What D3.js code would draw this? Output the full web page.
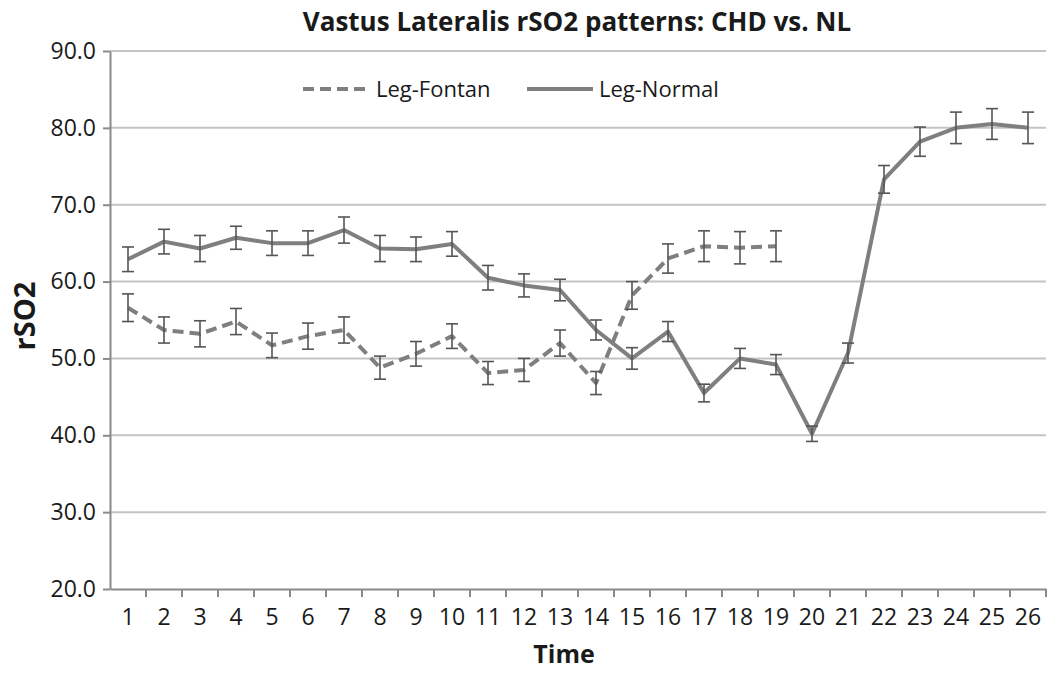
<!DOCTYPE html>
<html>
<head>
<meta charset="utf-8">
<script src="https://cdn.jsdelivr.net/npm/d3@7"></script>
<style>
  body { margin: 0; background: #fff; }
  text { font-family: "Open Sans", sans-serif; fill: #1a1a1a; }
</style>
</head>
<body>
<div id="chart"></div>
<script>
const width = 1048;
const height = 673;

const times = d3.range(1, 27).map(String); // 1..26 labels

const fontanMean = [56.6, 53.7, 53.2, 54.8, 51.7, 52.9, 53.7, 48.8, 50.6, 52.9, 48.1, 48.5, 52.0, 46.8, 58.2, 63.0, 64.6, 64.4, 64.6];
const fontanErr = [1.8, 1.7, 1.7, 1.7, 1.6, 1.7, 1.7, 1.5, 1.6, 1.6, 1.5, 1.5, 1.7, 1.5, 1.8, 1.9, 2.0, 2.1, 2.0];

const normalMean = [62.9, 65.2, 64.3, 65.7, 65.0, 65.0, 66.7, 64.3, 64.2, 64.9, 60.5, 59.5, 58.9, 53.7, 50.0, 53.5, 45.5, 50.0, 49.2, 40.2, 50.7, 73.3, 78.2, 80.0, 80.5, 80.0];
const normalErr = [1.6, 1.6, 1.7, 1.5, 1.6, 1.6, 1.7, 1.7, 1.6, 1.6, 1.6, 1.5, 1.4, 1.3, 1.4, 1.3, 1.15, 1.3, 1.3, 1.0, 1.3, 1.8, 1.9, 2.05, 2.0, 2.05];

const yTicks = [20, 30, 40, 50, 60, 70, 80, 90];

const margin = {top: 51, right: 2, bottom: 84, left: 110}; // plot area 110..1046, 51..589

const svg = d3.select('#chart').append('svg')
  .attr('width', width)
  .attr('height', height);

const x = d3.scaleBand()
  .domain(times)
  .range([margin.left, width - margin.right]);

const y = d3.scaleLinear()
  .domain([20, 90])
  .range([height - margin.bottom, margin.top]);

// gridlines
svg.append('g')
  .selectAll('line')
  .data(yTicks.slice(1))
  .enter()
  .append('line')
  .attr('x1', margin.left)
  .attr('x2', width - margin.right)
  .attr('y1', d => y(d))
  .attr('y2', d => y(d))
  .attr('stroke', '#c4c4c4')
  .attr('stroke-width', 2);

// y axis
const yAxis = svg.append('g')
  .attr('transform', `translate(${margin.left},0)`)
  .call(d3.axisLeft(y).tickValues(yTicks).tickFormat(d3.format('.1f')).tickSize(7).tickSizeOuter(0));
yAxis.select('.domain').attr('stroke', '#8a8a8a').attr('stroke-width', 2);
yAxis.selectAll('.tick line').attr('stroke', '#8a8a8a').attr('stroke-width', 2);
yAxis.selectAll('.tick text')
  .attr('x', -14)
  .style('font-size', '23px')
  .style('font-family', '"Open Sans", sans-serif')
  .attr('fill', '#1a1a1a');

// x axis
const xAxis = svg.append('g')
  .attr('transform', `translate(0,${height - margin.bottom})`)
  .call(d3.axisBottom(x).tickSize(0).tickSizeOuter(0));
xAxis.select('.domain').attr('stroke', '#8a8a8a').attr('stroke-width', 2);
xAxis.selectAll('.tick text')
  .attr('y', 20)
  .style('font-size', '23px')
  .style('font-family', '"Open Sans", sans-serif')
  .attr('fill', '#1a1a1a');
// tick marks between categories
xAxis.selectAll('.sep')
  .data(times)
  .enter()
  .append('line')
  .attr('class', 'sep')
  .attr('x1', d => x(d) + x.bandwidth())
  .attr('x2', d => x(d) + x.bandwidth())
  .attr('y1', 0)
  .attr('y2', 8)
  .attr('stroke', '#8a8a8a')
  .attr('stroke-width', 2);

const cx = i => x(times[i]) + x.bandwidth() / 2;

function drawSeries(mean, err, dash) {
  const g = svg.append('g');
  const line = d3.line()
    .x((d, i) => cx(i))
    .y(d => y(d));
  g.append('path')
    .datum(mean)
    .attr('d', line)
    .attr('fill', 'none')
    .attr('stroke', '#7f7f7f')
    .attr('stroke-width', 4)
    .attr('stroke-linejoin', 'round')
    .attr('stroke-dasharray', dash);

  const bars = g.selectAll('g.err')
    .data(mean)
    .enter()
    .append('g')
    .attr('class', 'err');
  bars.append('line')
    .attr('x1', (d, i) => cx(i))
    .attr('x2', (d, i) => cx(i))
    .attr('y1', (d, i) => y(d + err[i]))
    .attr('y2', (d, i) => y(d - err[i]))
    .attr('stroke', '#555')
    .attr('stroke-width', 1.6);
  [1, -1].forEach(s => {
    bars.append('line')
      .attr('x1', (d, i) => cx(i) - 6)
      .attr('x2', (d, i) => cx(i) + 6)
      .attr('y1', (d, i) => y(d + s * err[i]))
      .attr('y2', (d, i) => y(d + s * err[i]))
      .attr('stroke', '#555')
      .attr('stroke-width', 1.6);
  });
}

drawSeries(fontanMean, fontanErr, '11,6');
drawSeries(normalMean, normalErr, null);

// title
svg.append('text')
  .attr('x', 577)
  .attr('y', 31)
  .attr('text-anchor', 'middle')
  .style('font-size', '26px')
  .style('font-weight', 'bold')
  .text('Vastus Lateralis rSO2 patterns: CHD vs. NL');

// axis titles
svg.append('text')
  .attr('x', 564)
  .attr('y', 663)
  .attr('text-anchor', 'middle')
  .style('font-size', '25px')
  .style('font-weight', 'bold')
  .text('Time');

svg.append('text')
  .attr('transform', 'translate(35,316) rotate(-90)')
  .attr('text-anchor', 'middle')
  .style('font-size', '29px')
  .style('font-weight', 'bold')
  .text('rSO2');

// legend
const legend = [
  {name: 'Leg-Fontan', dash: '11,6', x1: 303, x2: 370},
  {name: 'Leg-Normal', dash: null, x1: 527, x2: 593}
];
const lg = svg.append('g');
legend.forEach(l => {
  lg.append('line')
    .attr('x1', l.x1)
    .attr('x2', l.x2)
    .attr('y1', 89)
    .attr('y2', 89)
    .attr('stroke', '#7f7f7f')
    .attr('stroke-width', 4)
    .attr('stroke-dasharray', l.dash);
  lg.append('text')
    .attr('x', l.x2 + 6)
    .attr('y', 97)
    .style('font-size', '22px')
    .text(l.name);
});
</script>
</body>
</html>
